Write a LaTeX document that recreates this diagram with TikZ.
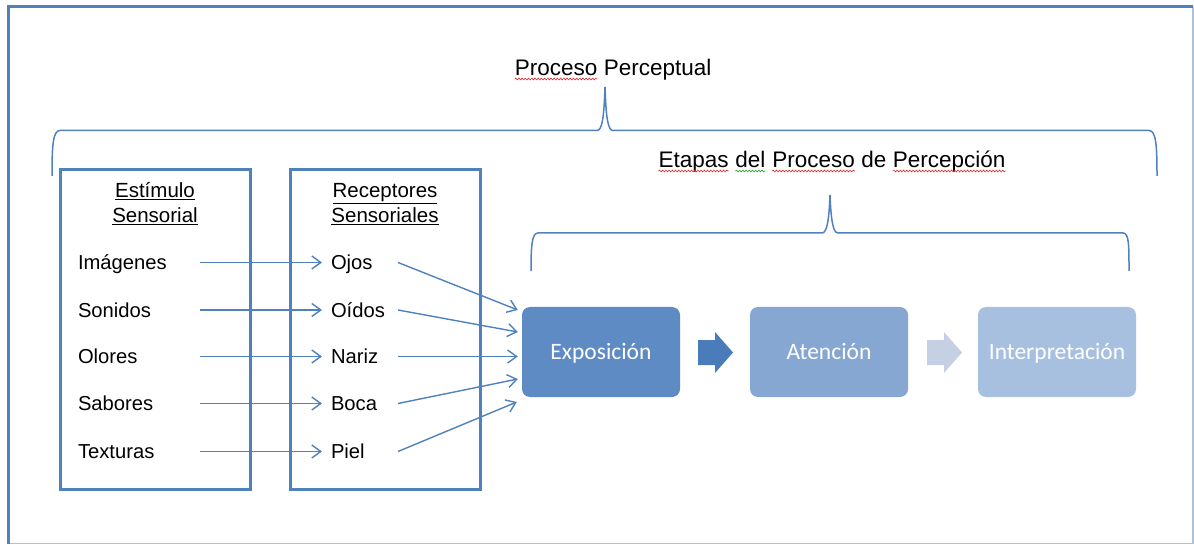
\documentclass[tikz,border=0pt]{standalone}
\usepackage{fontspec}
\setmainfont{Liberation Sans}
\newfontfamily\calib{Carlito}
\usetikzlibrary{arrows.meta,decorations.pathmorphing}
\definecolor{frameblue}{RGB}{79,129,189}
\definecolor{framelight}{RGB}{170,193,223}
\definecolor{lineblue}{RGB}{79,129,189}
\definecolor{boxA}{RGB}{95,139,197}
\definecolor{boxB}{RGB}{134,167,210}
\definecolor{boxC}{RGB}{168,192,224}
\definecolor{arrA}{RGB}{74,123,186}
\definecolor{arrB}{RGB}{197,208,228}
\definecolor{squigred}{RGB}{225,40,40}
\definecolor{squiggreen}{RGB}{40,160,40}
\newcommand\sqw[2]{\tikz[baseline=(W.base)]{\node[inner sep=0pt,outer sep=0pt,anchor=base](W){#2};\draw[#1,line width=0.6pt,decorate,decoration={snake,amplitude=0.9pt,segment length=3.2pt}]([yshift=-3pt]W.base west)--([yshift=-3pt]W.base east);}}
\tikzset{
  stimitem/.style={font=\fontsize{20.2}{24}\selectfont, inner sep=0pt, outer sep=0pt, anchor=west, text height=14pt, text depth=0pt, align=left},
  lefti/.style={stimitem, text width=122pt},
  righti/.style={stimitem, text width=67pt},
  headtxt/.style={font=\fontsize{20.5}{24}\selectfont, inner sep=0pt, text height=14pt, text depth=0pt},
  titletxt/.style={font=\fontsize{22.5}{26}\selectfont, inner sep=0pt, anchor=base},
  colbox/.style={draw=frameblue, line width=3pt, minimum width=190pt, minimum height=319pt, inner sep=0pt},
  conn/.style={lineblue, line width=1.4pt, -{Straight Barb[length=9pt,width=13pt]}},
  bracepath/.style={lineblue, line width=1.5pt},
  stagebox/.style={rounded corners=8pt, minimum width=158pt, minimum height=90pt, inner sep=0pt, text=white, font=\calib\fontsize{23.5}{27}\selectfont, text height=15pt, text depth=0pt},
}
\begin{document}
\begin{tikzpicture}[x=1pt,y=-1pt]
\useasboundingbox (0,0) rectangle (1194,545);
% outer frame
\draw[framelight, line width=1.5pt] (1193,7) -- (1193,543.5) -- (8,543.5);
\draw[frameblue, line width=3pt] (8,543.5) -- (8,7) -- (1193,7);

% titles
\node[titletxt] (t1) at (613,76) {\sqw{squigred}{Proceso} Perceptual};
\node[titletxt] (t2) at (832,168) {\sqw{squigred}{Etapas} \sqw{squiggreen}{del} \sqw{squigred}{Proceso} de \sqw{squigred}{Percepción}};

% braces
\draw[bracepath] (52,176) .. controls (52,145) and (53,130.5) .. (60,130.5) -- (597,130.5)
  .. controls (602,130.5) and (604,118) .. (605,87) .. controls (606,118) and (608,130.5) .. (613,130.5)
  -- (1149,130.5) .. controls (1156,130.5) and (1157,145) .. (1157,176);
\draw[bracepath] (531,271) .. controls (531,245) and (532,233) .. (538,233) -- (822,233)
  .. controls (827,233) and (829,220) .. (830,195) .. controls (831,220) and (833,233) .. (838,233)
  -- (1123,233) .. controls (1129,233) and (1129,245) .. (1129,271);

% columns
\node[colbox] (box1) at (155,329.5) {};
\node[colbox] (box2) at (385,329.5) {};
\node[headtxt] (h1a) at (155,191) {\underline{Estímulo}};
\node[headtxt] (h1b) at (155,216) {\underline{Sensorial}};
\node[headtxt] (h2a) at (385,191) {\underline{Receptores}};
\node[headtxt] (h2b) at (385,216) {\underline{Sensoriales}};

\node[lefti] (img) at (78,262.5) {Imágenes};
\node[lefti] (son) at (78,310) {Sonidos};
\node[lefti] (olo) at (78,356.5) {Olores};
\node[lefti] (sab) at (78,403.5) {Sabores};
\node[lefti] (tex) at (78,451.5) {Texturas};

\node[righti] (ojo) at (331,262.5) {Ojos};
\node[righti] (oid) at (331,310) {Oídos};
\node[righti] (nar) at (331,356.5) {Nariz};
\node[righti] (boc) at (331,403.5) {Boca};
\node[righti] (pie) at (331,451.5) {Piel};

% stages
\node[stagebox, fill=boxA] (expo) at (601,352) {Exposición};
\node[stagebox, fill=boxB] (aten) at (829,352) {Atención};
\node[stagebox, fill=boxC] (inte) at (1057,352) {Interpretación};

% block arrows
\fill[arrA] (698,340) -- (715,340) -- (715,332) -- (733,352.5) -- (715,373) -- (715,365) -- (698,365) -- cycle;
\fill[arrB] (927,340) -- (944,340) -- (944,332) -- (962,352.5) -- (944,373) -- (944,365) -- (927,365) -- cycle;

% connectors
\draw[conn, shorten >=9pt] (img.east) -- (ojo.west);
\draw[conn, shorten >=9pt] (son.east) -- (oid.west);
\draw[conn, shorten >=9pt] (olo.east) -- (nar.west);
\draw[conn, shorten >=9pt] (sab.east) -- (boc.west);
\draw[conn, shorten >=9pt] (tex.east) -- (pie.west);

\draw[conn] (ojo.east) -- ([xshift=-4pt,yshift=42pt]expo.west);
\draw[conn] (oid.east) -- ([xshift=-4pt,yshift=20pt]expo.west);
\draw[conn] (nar.east) -- ([xshift=-4pt,yshift=-4.5pt]expo.west);
\draw[conn] (boc.east) -- ([xshift=-4pt,yshift=-27pt]expo.west);
\draw[conn] (pie.east) -- ([xshift=-5pt,yshift=-50pt]expo.west);
\end{tikzpicture}
\end{document}
